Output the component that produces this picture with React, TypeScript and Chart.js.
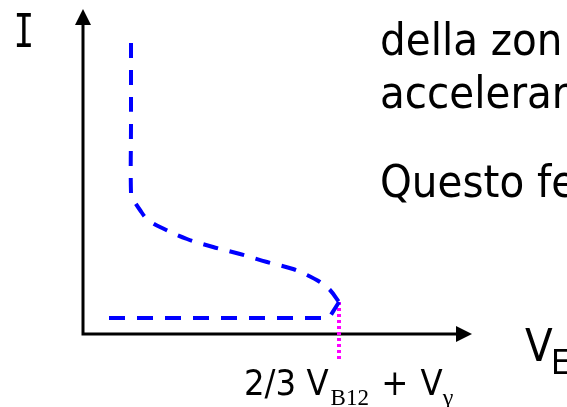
import React, { useEffect, useRef } from "react";
import { Chart, registerables } from "chart.js";

Chart.register(...registerables);

// Characteristic curve (V, I) in arbitrary units
const curveV = [4.8, 4.8, 4.8, 5.0, 5.7, 6.4, 7.7, 10.4, 13.0, 15.7, 18.4, 21.0, 22.4, 23.7, 24.7, 25.6];
const curveI = [29.1, 21.0, 14.1, 13.5, 12.4, 11.5, 10.7, 9.5, 8.7, 8.0, 7.2, 6.5, 5.9, 5.2, 4.4, 3.2];
// Snap-back branch (drawn from the left end towards the peak)
const snapV = [2.6, 24.6, 25.6];
const snapI = [1.6, 1.6, 3.2];
// Marker at 2/3 VB12 + Vγ
const markerV = [25.6, 25.6];
const markerI = [3.2, -2.7];

const textLines = ["della zon", "accelerar", "Questo fe"];

const SANS = '"DejaVu Sans Condensed", "DejaVu Sans", sans-serif';
const SERIF = '"Liberation Serif", "DejaVu Serif", serif';

const toPts = (xs: number[], ys: number[]) => xs.map((x, i) => ({ x, y: ys[i] }));

const decor = {
  id: "decor",
  beforeDatasetsDraw(chart: any) {
    const { ctx, scales } = chart;
    const x0 = scales.x.getPixelForValue(0);
    const y0 = scales.y.getPixelForValue(0);
    const yTop = scales.y.getPixelForValue(32.5);
    const xRight = scales.x.getPixelForValue(38.9);
    ctx.save();
    ctx.strokeStyle = "#000";
    ctx.fillStyle = "#000";
    ctx.lineWidth = 3;
    ctx.beginPath();
    ctx.moveTo(x0, y0);
    ctx.lineTo(x0, yTop + 10);
    ctx.moveTo(x0 - 1.5, y0);
    ctx.lineTo(xRight - 10, y0);
    ctx.stroke();
    ctx.beginPath();
    ctx.moveTo(x0, yTop);
    ctx.lineTo(x0 - 8, yTop + 16);
    ctx.lineTo(x0 + 8, yTop + 16);
    ctx.closePath();
    ctx.fill();
    ctx.beginPath();
    ctx.moveTo(xRight, y0);
    ctx.lineTo(xRight - 16, y0 - 8);
    ctx.lineTo(xRight - 16, y0 + 8);
    ctx.closePath();
    ctx.fill();
    ctx.restore();
  },
  afterDraw(chart: any) {
    const { ctx } = chart;
    ctx.save();
    ctx.fillStyle = "#000";
    ctx.textBaseline = "alphabetic";
    ctx.textAlign = "left";
    // y label (narrow serif I)
    ctx.save();
    ctx.translate(24, 47);
    ctx.scale(0.75, 1);
    ctx.textAlign = "center";
    ctx.font = '46px "DejaVu Sans Mono", monospace';
    ctx.fillText("I", 0, 0);
    ctx.restore();
    // right text
    ctx.font = "45px " + SANS;
    ctx.fillText(textLines[0], 380, 55);
    ctx.fillText(textLines[1], 380, 108);
    ctx.fillText(textLines[2], 380, 197);
    // x label
    ctx.font = "45px " + SANS;
    ctx.fillText("V", 525, 361);
    ctx.font = "34px " + SANS;
    ctx.fillText("E", 551, 374);
    // marker label
    ctx.font = "36px " + SANS;
    let x = 244;
    ctx.fillText("2/3 V", x, 395);
    x += ctx.measureText("2/3 V").width;
    ctx.font = "23px " + SERIF;
    ctx.fillText("B12", x + 2, 405);
    x += ctx.measureText("B12").width + 2;
    ctx.font = "36px " + SANS;
    ctx.fillText(" + ", x + 2, 395);
    x += ctx.measureText(" + ").width + 4;
    ctx.fillText("V", x, 395);
    x += ctx.measureText("V").width;
    ctx.font = "24px " + SERIF;
    ctx.fillText("γ", x, 405);
    ctx.restore();
  },
};

export default function App() {
  const ref = useRef<HTMLCanvasElement | null>(null);
  useEffect(() => {
    if (!ref.current) return;
    const chart = new Chart(ref.current, {
      type: "scatter",
      data: {
        datasets: [
          {
            data: toPts(curveV, curveI),
            showLine: true,
            borderColor: "#0000FF",
            borderWidth: 4,
            borderDash: [15, 12],
            tension: 0.35,
            pointRadius: 0,
            fill: false,
          },
          {
            data: toPts(snapV, snapI),
            showLine: true,
            borderColor: "#0000FF",
            borderWidth: 4,
            borderDash: [16, 12],
            tension: 0,
            pointRadius: 0,
            fill: false,
          },
          {
            data: toPts(markerV, markerI),
            showLine: true,
            borderColor: "#FF00FF",
            borderWidth: 4,
            borderDash: [3, 3],
            tension: 0,
            pointRadius: 0,
            fill: false,
          },
        ],
      },
      options: {
        responsive: false,
        animation: false,
        layout: { padding: 0 },
        plugins: { legend: { display: false }, tooltip: { enabled: false } },
        scales: {
          x: { type: "linear", min: -8.3, max: 48.4, display: false },
          y: { type: "linear", min: -7.3, max: 33.4, display: false },
        },
      },
      plugins: [decor],
    });
    return () => chart.destroy();
  }, []);
  return (
    <div style={{ position: "fixed", left: 0, top: 0, width: 567, height: 407, background: "#fff" }}>
      <canvas ref={ref} width={567} height={407} />
    </div>
  );
}
